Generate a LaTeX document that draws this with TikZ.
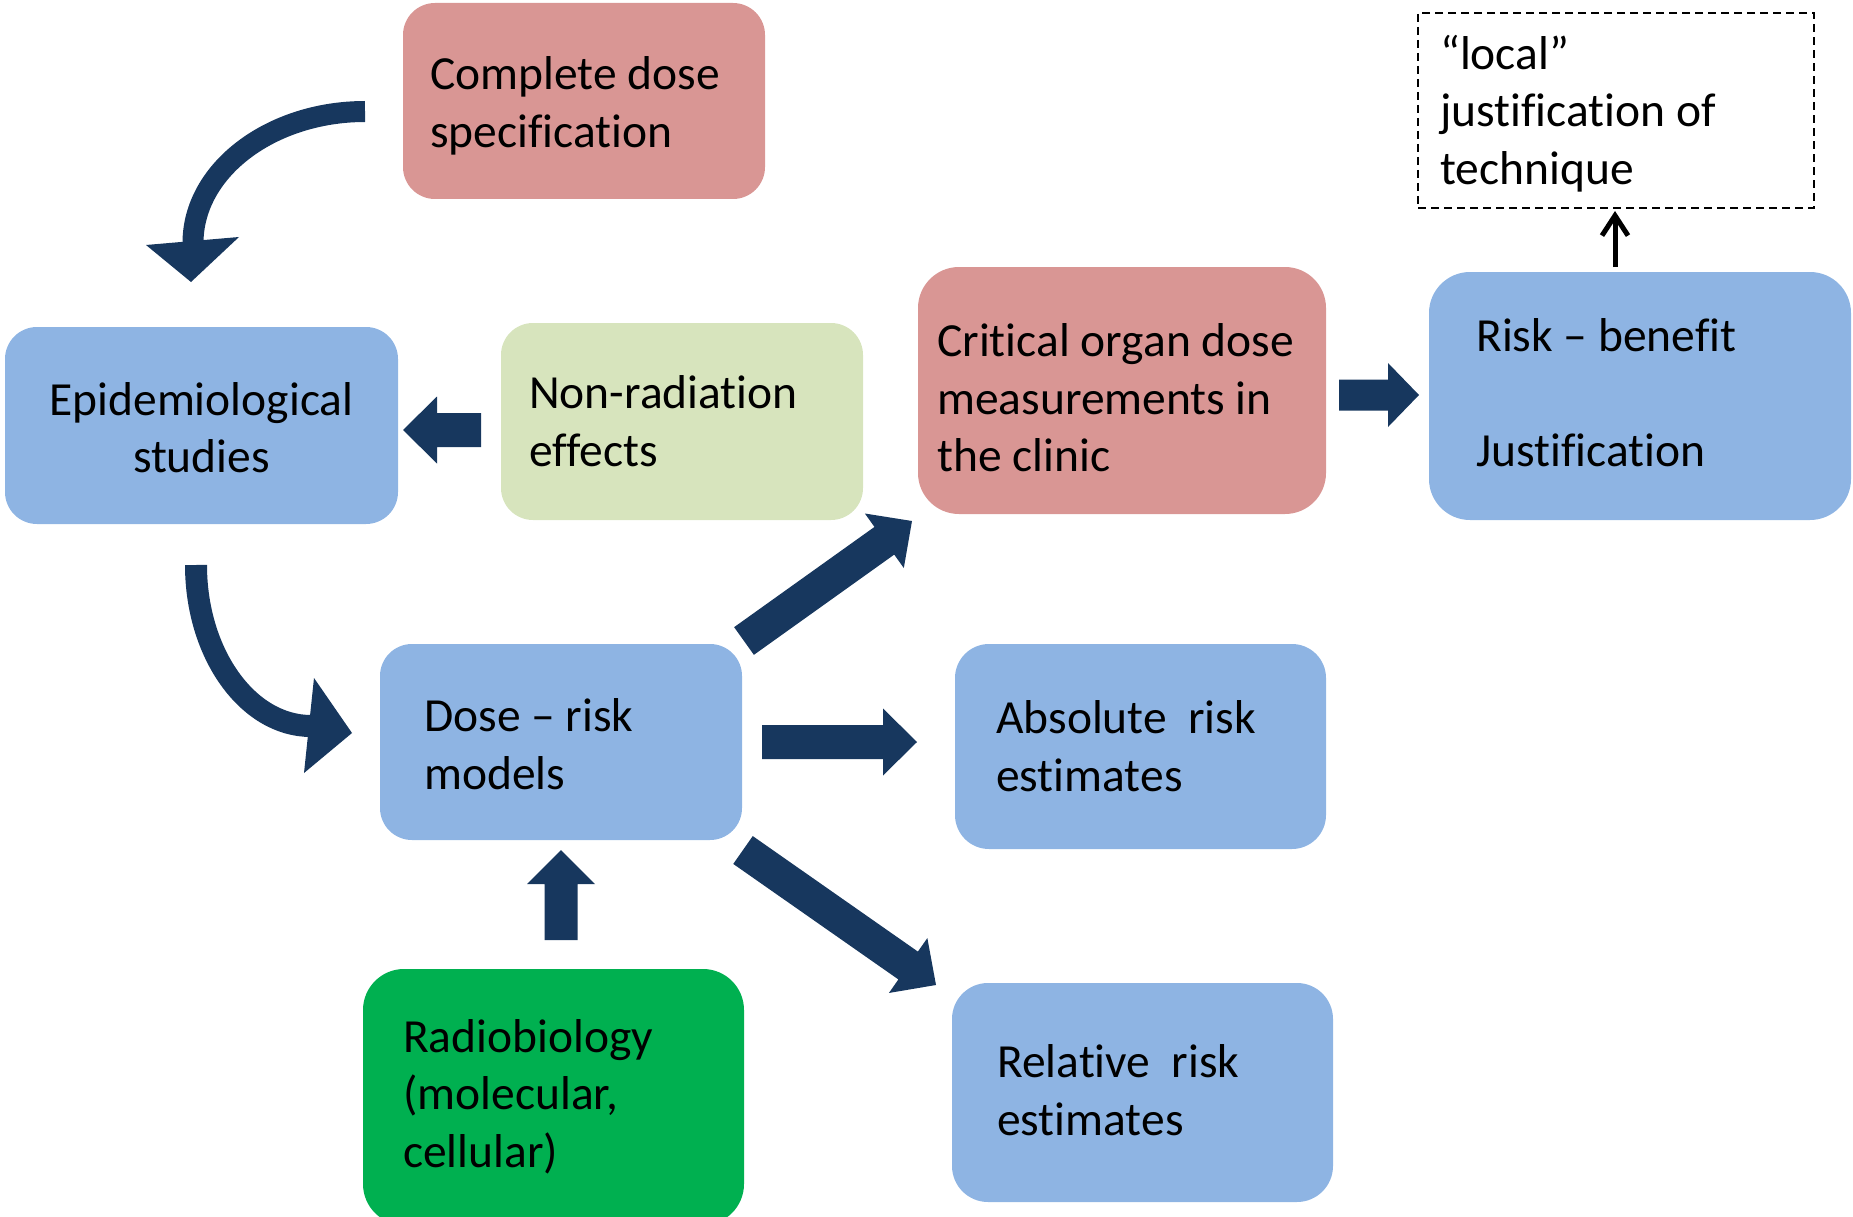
\documentclass[tikz,border=0pt]{standalone}
\usepackage{fontspec}
\setmainfont{Carlito}[Ligatures={NoCommon}]
\usetikzlibrary{calc,arrows.meta}
\definecolor{pinkbox}{HTML}{D99694}
\definecolor{bluebox}{HTML}{8EB4E3}
\definecolor{lgreenbox}{HTML}{D7E4BD}
\definecolor{greenbox}{HTML}{00B050}
\definecolor{navy}{HTML}{17375E}
\newcommand\txtlines[1]{\begin{tabular}[t]{@{}l@{}}#1\end{tabular}}
\newcommand\txtlinesc[1]{\begin{tabular}[t]{@{}c@{}}#1\end{tabular}}
% block arrow: start, tip, half shaft, half head, head length
\newcommand\barrow[5]{%
  \coordinate (#1#2b) at ($(#2)!#5!(#1)$);
  \fill[navy] ($(#1)!#3!90:(#2)$) -- ($(#1#2b)!#3!90:(#2)$) -- ($(#1#2b)!#4!90:(#2)$)
    -- (#2) -- ($(#1#2b)!#4!-90:(#2)$) -- ($(#1#2b)!#3!-90:(#2)$) -- ($(#1)!#3!-90:(#2)$) -- cycle;
}
\begin{document}
\begin{tikzpicture}[x=1pt,y=-1pt,
  box/.style={rectangle, inner sep=0pt, draw=none},
  txt/.style={inner sep=0pt, anchor=base west, font=\fontsize{47.5}{57.5}\selectfont, text=black}]
\useasboundingbox (0,0) rectangle (1853,1217);
% boxes
\node[box, fill=pinkbox, rounded corners=32pt, minimum width=362pt, minimum height=196pt] (cds) at (584,101) {};
\node[box, fill=bluebox, rounded corners=32pt, minimum width=393pt, minimum height=197pt] (epi) at (201.5,425.5) {};
\node[box, fill=lgreenbox, rounded corners=32pt, minimum width=362pt, minimum height=197pt] (nre) at (682,421.5) {};
\node[box, fill=pinkbox, rounded corners=41pt, minimum width=408pt, minimum height=247pt] (cod) at (1122,390.5) {};
\node[box, fill=bluebox, rounded corners=41pt, minimum width=422pt, minimum height=248pt] (rb) at (1640,396) {};
\node[box, draw=black, line width=2.5pt, dash pattern=on 8pt off 5pt, minimum width=396pt, minimum height=195pt] (loc) at (1616,110.5) {};
\node[box, fill=bluebox, rounded corners=32pt, minimum width=362pt, minimum height=196pt] (drm) at (561,742) {};
\node[box, fill=greenbox, rounded corners=41pt, minimum width=381pt, minimum height=256pt] (rad) at (553.5,1097) {};
\node[box, fill=bluebox, rounded corners=34pt, minimum width=371pt, minimum height=205pt] (abs) at (1140.5,746.5) {};
\node[box, fill=bluebox, rounded corners=36pt, minimum width=381pt, minimum height=219pt] (rel) at (1142.5,1092.5) {};
% texts
\node[txt] (cds-t) at (430,90) {\txtlines{Complete dose\\specification}};
\node[txt, anchor=base] (epi-t) at (201.5,415) {\txtlinesc{Epidemiological\\studies}};
\node[txt] (nre-t) at (529,408.5) {\txtlines{Non-radiation\\effects}};
\node[txt] (cod-t) at (937,356.5) {\txtlines{Critical organ dose\\measurements in\\the clinic}};
\node[txt] (rb-t) at (1476,351.5) {\txtlines{Risk – benefit\\[57.5pt]Justification}};
\node[txt] (loc-t) at (1440,69.5) {\txtlines{“local”\\justification of\\technique}};
\node[txt] (drm-t) at (424,731.5) {\txtlines{Dose – risk\\models}};
\node[txt] (rad-t) at (403,1052) {\txtlines{Radiobiology\\(molecular,\\cellular)}};
\node[txt] (abs-t) at (996,733.5) {\txtlines{Absolute~ risk\\estimates}};
\node[txt] (rel-t) at (997,1077.5) {\txtlines{Relative~ risk\\estimates}};
% connector end points
\coordinate (nes) at (481,430); \coordinate (net) at (403,430);
\coordinate (crs) at (1339,395); \coordinate (crt) at (1419,395);
\coordinate (dcs) at (744,641); \coordinate (dct) at (912,521);
\coordinate (das) at (762,742); \coordinate (dat) at (917,742);
\coordinate (drs) at (743,850); \coordinate (drt) at (936,985);
\coordinate (rds) at (561,940); \coordinate (rdt) at (561,850);
\coordinate (c1s) at (365,111.5); \coordinate (c1e) at (193,243);
\coordinate (c2s) at (196,565); \coordinate (c2e) at (311,726);
\coordinate (lbs) at (1615,267); \coordinate (lbt) at (1615,211);
% block arrows
\barrow{nes}{net}{17pt}{33.5pt}{34pt}
\barrow{crs}{crt}{15.5pt}{32pt}{31pt}
\barrow{dcs}{dct}{17pt}{33.5pt}{34pt}
\barrow{das}{dat}{17pt}{33.5pt}{34pt}
\barrow{drs}{drt}{17pt}{33.5pt}{34pt}
\barrow{rds}{rdt}{16.5pt}{34pt}{34pt}
% curved arrows
\draw[navy, line width=21pt] (c1s) .. controls (271,111.5) and (193,170) .. (c1e);
\fill[navy] (146,245) -- (191,282) -- (239,237) -- cycle;
\draw[navy, line width=22pt] (c2s) .. controls (196,654) and (248,726) .. (c2e);
\fill[navy] (314,678) -- (352,733) -- (304,773) -- cycle;
% small black arrow
\draw[black, line width=5pt, -{Straight Barb[length=20pt,width=26pt]}] (lbs) -- (lbt);
\end{tikzpicture}
\end{document}
